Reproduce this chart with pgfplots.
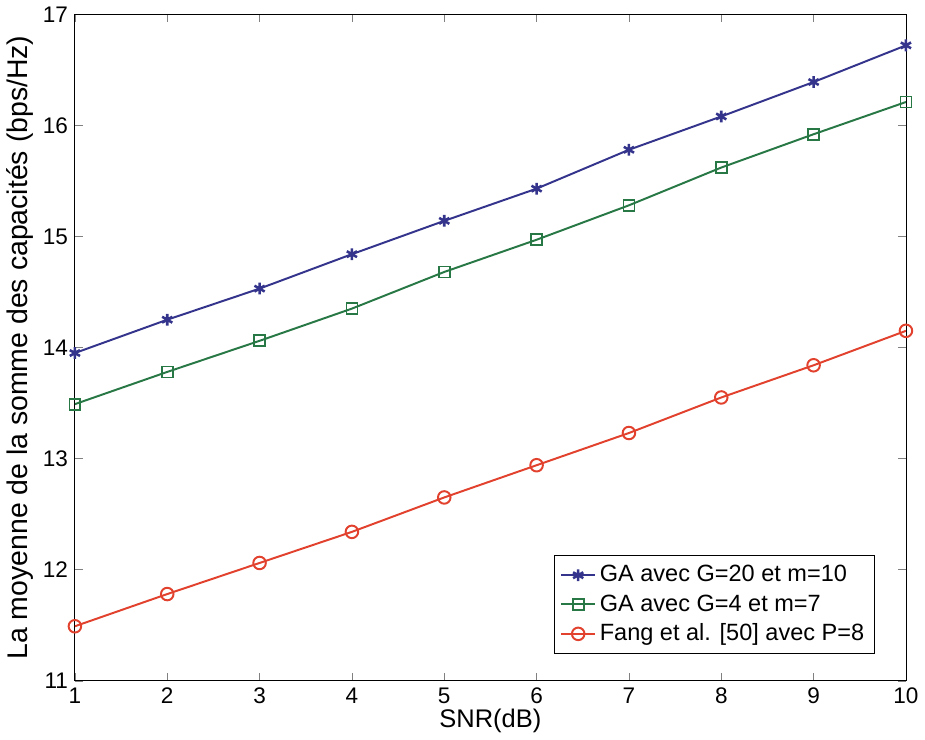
\documentclass[border=0pt]{standalone}
\usepackage{pgfplots}
\pgfplotsset{compat=1.18}
\usepackage{fontspec}
\setmainfont{Liberation Sans}
\definecolor{cblue}{RGB}{52,52,140}
\definecolor{cgreen}{RGB}{40,120,70}
\definecolor{cred}{RGB}{225,65,45}
\begin{document}
\begin{tikzpicture}
\begin{axis}[
  scale only axis,
  width=424pt, height=340pt,
  xmin=1, xmax=10, ymin=11, ymax=17,
  xtick={1,...,10}, ytick={11,...,17},
  tick align=inside,
  tick pos=both,
  major tick length=4pt,
  /pgf/number format/assume math mode=true,
  tick label style={font=\fontsize{11.5}{13}\selectfont},
  xlabel={SNR(dB)},
  ylabel={La moyenne de la somme des capacités (bps/Hz)},
  xlabel style={font=\fontsize{13}{15}\selectfont, yshift=4pt},
  ylabel style={font=\fontsize{14.5}{16}\selectfont, yshift=-2pt},
  legend style={at={(0.962,0.04)}, anchor=south east, font=\fontsize{12}{14}\selectfont, draw=black, row sep=1pt, inner sep=3pt},
  legend cell align=left,
  every axis plot/.append style={line width=1pt},
]
\addplot[cblue, mark=asterisk, mark size=3pt, mark options={line width=1.3pt}] coordinates {
(1,13.95) (2,14.25) (3,14.53) (4,14.84) (5,15.14) (6,15.43) (7,15.78) (8,16.08) (9,16.39) (10,16.72)};
\addlegendentry{GA avec G=20 et m=10}
\addplot[cgreen, mark=square, mark size=2.8pt, mark options={line width=0.9pt}] coordinates {
(1,13.49) (2,13.78) (3,14.06) (4,14.35) (5,14.68) (6,14.97) (7,15.28) (8,15.62) (9,15.92) (10,16.21)};
\addlegendentry{GA avec G=4 et m=7}
\addplot[cred, mark=o, mark size=3.2pt, mark options={line width=1pt}] coordinates {
(1,11.49) (2,11.78) (3,12.06) (4,12.34) (5,12.65) (6,12.94) (7,13.23) (8,13.55) (9,13.84) (10,14.15)};
\addlegendentry{Fang et al. [50] avec P=8}
\end{axis}
\end{tikzpicture}
\end{document}
